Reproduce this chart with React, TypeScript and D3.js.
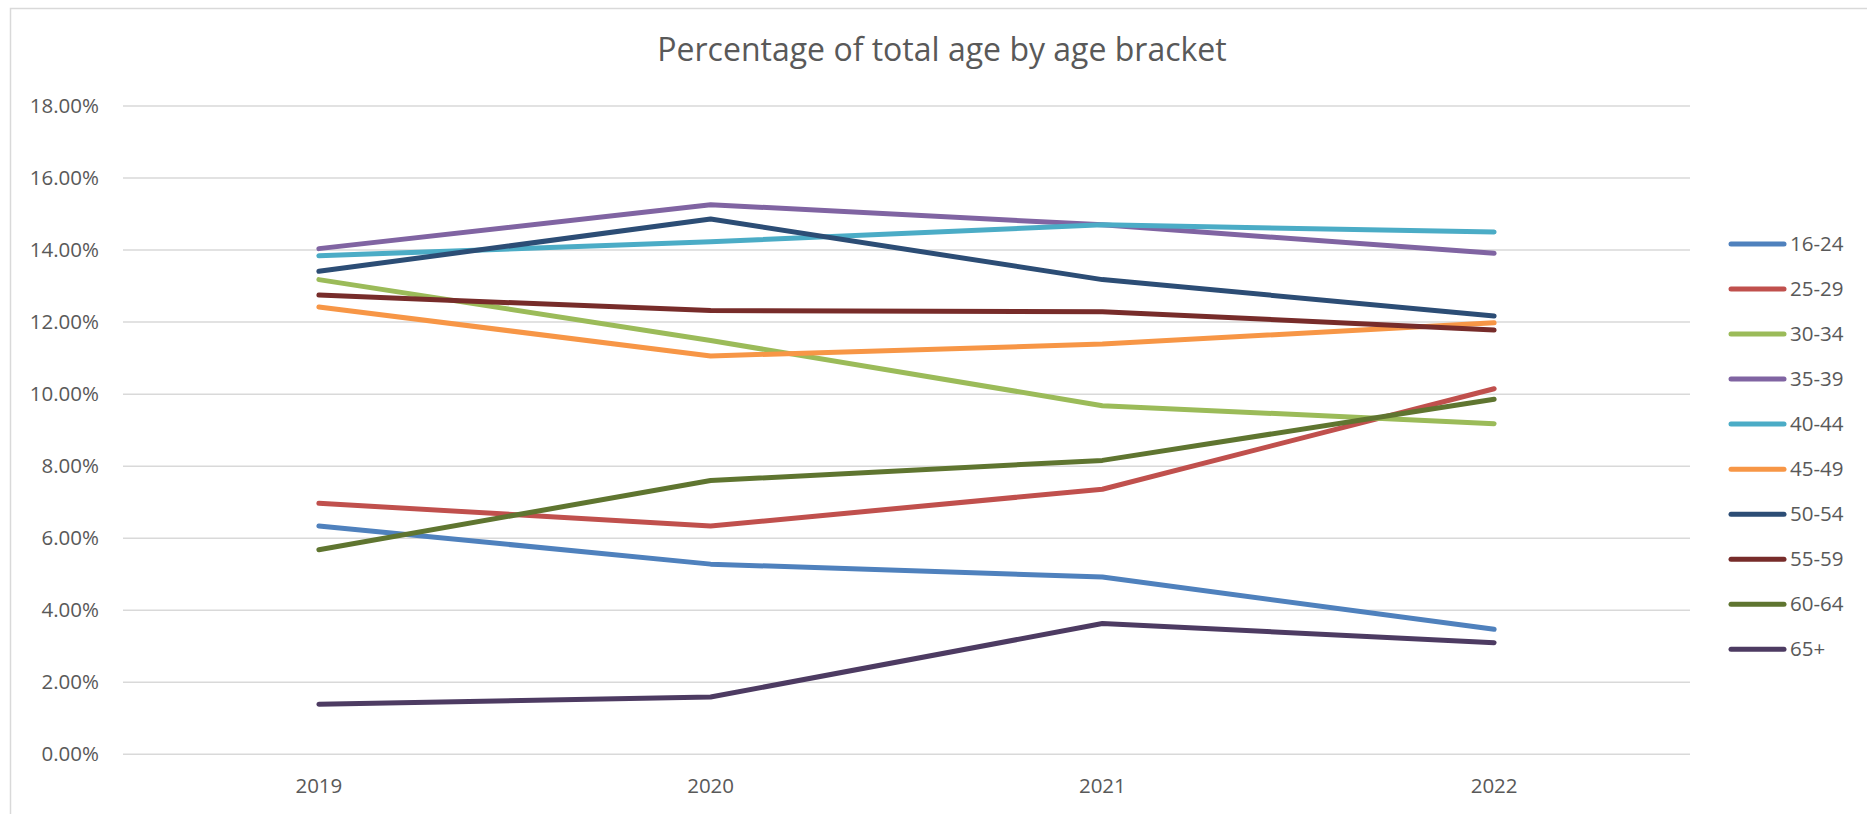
import React from "react";
import * as d3 from "d3";

const title = "Percentage of total age by age bracket";
const years = ["2019", "2020", "2021", "2022"];
const yTicks = [0, 0.02, 0.04, 0.06, 0.08, 0.1, 0.12, 0.14, 0.16, 0.18];

const seriesNames = ["16-24", "25-29", "30-34", "35-39", "40-44", "45-49", "50-54", "55-59", "60-64", "65+"];
const seriesColors = ["#4F81BD", "#C0504D", "#9BBB59", "#8064A2", "#4BACC6", "#F79646", "#2C4D75", "#772C2A", "#5F7530", "#4D3B62"];

const s1624 = [0.0634, 0.0528, 0.0492, 0.0347];
const s2529 = [0.0697, 0.0634, 0.0736, 0.1015];
const s3034 = [0.1318, 0.1149, 0.0968, 0.0918];
const s3539 = [0.1404, 0.1526, 0.1470, 0.1391];
const s4044 = [0.1384, 0.1423, 0.1470, 0.1450];
const s4549 = [0.1242, 0.1106, 0.1139, 0.1198];
const s5054 = [0.1341, 0.1486, 0.1318, 0.1217];
const s5559 = [0.1275, 0.1232, 0.1229, 0.1178];
const s6064 = [0.0568, 0.0760, 0.0816, 0.0986];
const s65p = [0.0139, 0.0159, 0.0363, 0.0310];

const seriesValues = [s1624, s2529, s3034, s3539, s4044, s4549, s5054, s5559, s6064, s65p];

const W = 1867;
const H = 814;
const FONT = "'Open Sans', 'Noto Sans', sans-serif";
const TEXT = "#595959";
const GRID = "#D9D9D9";

export default function App() {
  const x = d3.scalePoint<string>().domain(years).range([123, 1690]).padding(0.5);
  const y = d3.scaleLinear().domain([0, 0.18]).range([754.3, 106]);
  const line = d3
    .line<number>()
    .x((_, i) => x(years[i]) as number)
    .y((d) => y(d));
  const fmt = d3.format(".2%");

  return (
    <svg
      width={W}
      height={H}
      style={{ position: "absolute", left: 0, top: 0, background: "#fff" }}
      fontFamily={FONT}
    >
      <rect x={0} y={0} width={W} height={H} fill="#fff" />
      <rect x={10.5} y={8.5} width={W + 20} height={H + 20} fill="none" stroke={GRID} strokeWidth={1.5} />
      <text x={942} y={61} textAnchor="middle" fontSize={32} fill={TEXT}>
        {title}
      </text>
      {yTicks.map((t) => (
        <g key={t}>
          <line x1={123} x2={1690} y1={y(t)} y2={y(t)} stroke={GRID} strokeWidth={1.5} />
          <text x={99} y={y(t)} dy="0.35em" textAnchor="end" fontSize={20.5} fill={TEXT}>
            {fmt(t)}
          </text>
        </g>
      ))}
      {years.map((yr) => (
        <text key={yr} x={x(yr)} y={786} dy="0.35em" textAnchor="middle" fontSize={20.5} fill={TEXT}>
          {yr}
        </text>
      ))}
      {seriesValues.map((vals, i) => (
        <path
          key={seriesNames[i]}
          d={line(vals) || ""}
          fill="none"
          stroke={seriesColors[i]}
          strokeWidth={5}
          strokeLinecap="round"
          strokeLinejoin="round"
        />
      ))}
      {seriesNames.map((name, i) => {
        const ly = 244 + i * 45.03;
        return (
          <g key={name}>
            <line x1={1731} x2={1784} y1={ly} y2={ly} stroke={seriesColors[i]} strokeWidth={5} strokeLinecap="round" />
            <text x={1790} y={ly} dy="0.35em" fontSize={20.5} fill={TEXT}>
              {name}
            </text>
          </g>
        );
      })}
    </svg>
  );
}
